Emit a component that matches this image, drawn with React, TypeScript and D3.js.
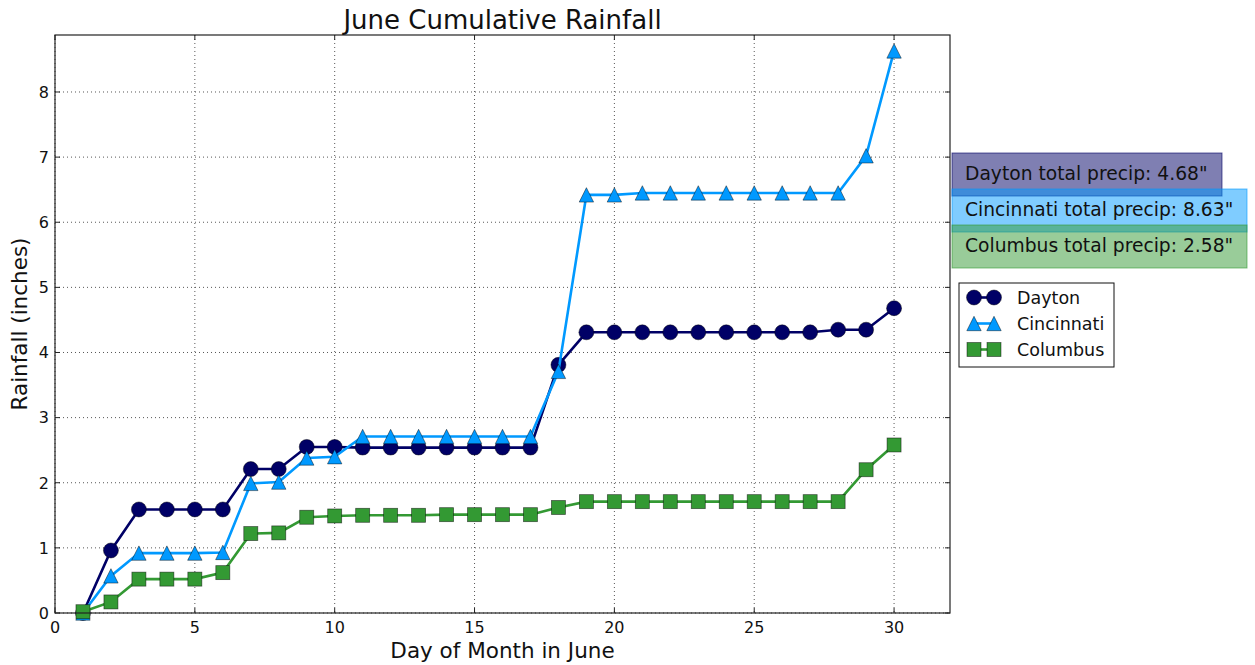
import React from "react";
import * as d3 from "d3";

// Cumulative June rainfall (inches) by day, for three Ohio cities
const days = d3.range(1, 31);
const dayton = [0, 0.96, 1.59, 1.59, 1.59, 1.59, 2.21, 2.21, 2.55, 2.55, 2.54, 2.54, 2.54, 2.54, 2.54, 2.54, 2.54, 3.81, 4.31, 4.31, 4.31, 4.31, 4.31, 4.31, 4.31, 4.31, 4.31, 4.35, 4.35, 4.68];
const cincinnati = [0, 0.57, 0.92, 0.92, 0.92, 0.93, 1.99, 2.01, 2.38, 2.40, 2.71, 2.71, 2.71, 2.71, 2.71, 2.71, 2.71, 3.71, 6.42, 6.42, 6.45, 6.45, 6.45, 6.45, 6.45, 6.45, 6.45, 6.45, 7.02, 8.63];
const columbus = [0.02, 0.17, 0.52, 0.52, 0.52, 0.62, 1.22, 1.23, 1.47, 1.49, 1.50, 1.50, 1.50, 1.51, 1.51, 1.51, 1.51, 1.62, 1.71, 1.71, 1.71, 1.71, 1.71, 1.71, 1.71, 1.71, 1.71, 1.71, 2.20, 2.58];

const cityNames = ["Dayton", "Cincinnati", "Columbus"];
const cityValues = [dayton, cincinnati, columbus];
const cityColors = ["#000066", "#0099ff", "#339933"];
const cityMarkers = ["circle", "triangle", "square"];

const xTicks = [0, 5, 10, 15, 20, 25, 30];
const yTicks = [0, 1, 2, 3, 4, 5, 6, 7, 8];

const W = 1255;
const H = 665;
const M = { left: 55, right: 950, top: 35, bottom: 613 };
const FONT = "DejaVu Sans, Bitstream Vera Sans, sans-serif";

const x = d3.scaleLinear().domain([0, 32]).range([M.left, M.right]);
const y = d3.scaleLinear().domain([0, 8.875]).range([M.bottom, M.top]);

function Marker({ kind, cx, cy, color }: { kind: string; cx: number; cy: number; color: string }) {
  const edge = { stroke: "#000", strokeOpacity: 0.55, strokeWidth: 0.8 };
  if (kind === "circle") return <circle cx={cx} cy={cy} r={7.5} fill={color} {...edge} />;
  if (kind === "square")
    return <rect x={cx - 7} y={cy - 7} width={14} height={14} fill={color} {...edge} />;
  const s = 7.2;
  const pts = `${cx},${cy - s} ${cx - s},${cy + s} ${cx + s},${cy + s}`;
  return <polygon points={pts} fill={color} {...edge} strokeLinejoin="miter" />;
}

const boxes = [
  { x: 952, y: 153, w: 270, h: 43, ty: 179.5 },
  { x: 952, y: 189, w: 295, h: 43, ty: 216 },
  { x: 952, y: 225, w: 295, h: 43, ty: 252 },
];

export default function App() {
  const line = (vals: number[]) =>
    d3
      .line<number>()
      .x((_, i) => x(days[i]))
      .y((v) => y(v))(vals) as string;

  return (
    <svg
      width={W}
      height={H}
      style={{ position: "absolute", left: 0, top: 0, background: "#fff" }}
      fontFamily={FONT}
    >
      <rect x={0} y={0} width={W} height={H} fill="#fff" />

      {/* grid */}
      <g stroke="#444" strokeWidth={0.9} strokeDasharray="1,3">
        {xTicks.map((t) => (
          <line key={"gx" + t} x1={x(t)} x2={x(t)} y1={M.top} y2={M.bottom} />
        ))}
        {yTicks.map((t) => (
          <line key={"gy" + t} x1={M.left} x2={M.right} y1={y(t)} y2={y(t)} />
        ))}
      </g>

      {/* series */}
      {cityValues.map((vals, si) => (
        <g key={cityNames[si]}>
          <path d={line(vals)} fill="none" stroke={cityColors[si]} strokeWidth={2.6} />
          {vals.map((v, i) => (
            <Marker key={i} kind={cityMarkers[si]} cx={x(days[i])} cy={y(v)} color={cityColors[si]} />
          ))}
        </g>
      ))}

      {/* frame and inward ticks */}
      <rect
        x={M.left}
        y={M.top}
        width={M.right - M.left}
        height={M.bottom - M.top}
        fill="none"
        stroke="#222"
        strokeWidth={1.2}
      />
      <g stroke="#222" strokeWidth={1}>
        {xTicks.map((t) => (
          <g key={"tx" + t}>
            <line x1={x(t)} x2={x(t)} y1={M.bottom} y2={M.bottom - 5} />
            <line x1={x(t)} x2={x(t)} y1={M.top} y2={M.top + 5} />
          </g>
        ))}
        {yTicks.map((t) => (
          <g key={"ty" + t}>
            <line x1={M.left} x2={M.left + 5} y1={y(t)} y2={y(t)} />
            <line x1={M.right} x2={M.right - 5} y1={y(t)} y2={y(t)} />
          </g>
        ))}
      </g>

      {/* tick labels */}
      <g fontSize={16} fill="#111">
        {xTicks.map((t) => (
          <text key={"lx" + t} x={x(t)} y={633} textAnchor="middle">
            {t}
          </text>
        ))}
        {yTicks.map((t) => (
          <text key={"ly" + t} x={49} y={y(t)} dy="0.36em" textAnchor="end">
            {t}
          </text>
        ))}
      </g>

      {/* titles */}
      <text x={(M.left + M.right) / 2} y={29} fontSize={26} textAnchor="middle" fill="#111">
        June Cumulative Rainfall
      </text>
      <text x={(M.left + M.right) / 2} y={658} fontSize={21.5} textAnchor="middle" fill="#111">
        Day of Month in June
      </text>
      <text
        transform={`translate(26.5, ${(M.top + M.bottom) / 2}) rotate(-90)`}
        fontSize={21.5}
        textAnchor="middle"
        fill="#111"
      >
        Rainfall (inches)
      </text>

      {/* total precipitation boxes */}
      {cityValues.map((vals, si) => {
        const b = boxes[si];
        const total = vals[vals.length - 1];
        return (
          <g key={"box" + si}>
            <rect
              x={b.x}
              y={b.y}
              width={b.w}
              height={b.h}
              fill={cityColors[si]}
              fillOpacity={0.5}
              stroke={cityColors[si]}
              strokeOpacity={0.6}
              strokeWidth={1}
            />
            <text x={965} y={b.ty} fontSize={18.7} fill="#111">
              {`${cityNames[si]} total precip: ${total.toFixed(2)}"`}
            </text>
          </g>
        );
      })}

      {/* legend */}
      <g>
        <rect x={959} y={283} width={155} height={84} fill="#fff" stroke="#111" strokeWidth={1} />
        {cityNames.map((name, si) => {
          const cy = 297.5 + si * 26;
          return (
            <g key={"lg" + si}>
              <line x1={974} x2={994} y1={cy} y2={cy} stroke={cityColors[si]} strokeWidth={2.6} />
              <Marker kind={cityMarkers[si]} cx={974} cy={cy} color={cityColors[si]} />
              <Marker kind={cityMarkers[si]} cx={994} cy={cy} color={cityColors[si]} />
              <text x={1017} y={cy} dy="0.36em" fontSize={17.5} fill="#111">
                {name}
              </text>
            </g>
          );
        })}
      </g>
    </svg>
  );
}
